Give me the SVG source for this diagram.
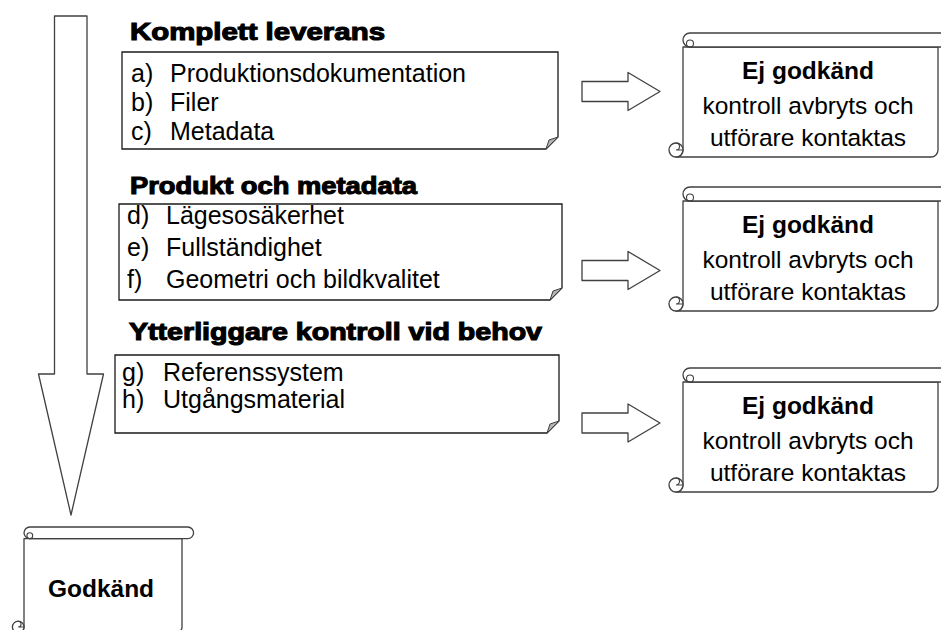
<svg xmlns="http://www.w3.org/2000/svg" width="941" height="630" viewBox="0 0 941 630">
<style>
.ln{fill:#fff;stroke:#404040;stroke-width:1.3;stroke-linejoin:round}
.nf{fill:none;stroke:#404040;stroke-width:1.1}
.box{fill:#fff;stroke:#1a1a1a;stroke-width:1.3}
.fold{fill:#b3b3b3;stroke:#404040;stroke-width:1}
.ttl{font-family:"Liberation Sans",Arial,sans-serif;font-size:24px;font-weight:bold;fill:#000;stroke:#000;stroke-width:1.1}
.it{font-family:"Liberation Sans",Arial,sans-serif;font-size:25px;fill:#000}
.st{font-family:"Liberation Sans",Arial,sans-serif;font-size:24.5px;fill:#000;text-anchor:middle}
.b{font-weight:bold}
</style>
<rect width="941" height="630" fill="#fff"/>

<g id="connectors">
  <polygon class="ln" points="54.5,16 87,16 87,374 103.5,374 71,515 38.5,374 54.5,374"/>
  <polygon class="ln" points="582,81.5 628,81.5 628,72.5 660,91.5 628,110.5 628,101.5 582,101.5"/>
  <polygon class="ln" points="582,260.5 628,260.5 628,251.5 660,270.5 628,289.5 628,280.5 582,280.5"/>
  <polygon class="ln" points="582,413 628,413 628,404 660,423 628,442 628,433 582,433"/>
</g>

<g id="komplett-leverans">
  <text class="ttl" x="130" y="40" textLength="255" lengthAdjust="spacingAndGlyphs">Komplett leverans</text>
  <path class="box" d="M122,52 H558 V137 L546,149 H122 Z"/>
  <path class="fold" d="M558,137 L546,149 L549,140 Z"/>
  <text class="it" x="131" y="82">a)</text><text class="it" x="170" y="82">Produktionsdokumentation</text>
  <text class="it" x="131" y="111">b)</text><text class="it" x="170" y="111">Filer</text>
  <text class="it" x="131" y="140">c)</text><text class="it" x="170" y="140">Metadata</text>
</g>

<g id="produkt-och-metadata">
  <text class="ttl" x="130" y="194" textLength="287" lengthAdjust="spacingAndGlyphs">Produkt och metadata</text>
  <path class="box" d="M119,204 H562 V288 L550,300 H119 Z"/>
  <path class="fold" d="M562,288 L550,300 L553,291 Z"/>
  <text class="it" x="127" y="224">d)</text><text class="it" x="166" y="224">Lägesosäkerhet</text>
  <text class="it" x="127" y="256">e)</text><text class="it" x="166" y="256">Fullständighet</text>
  <text class="it" x="127" y="288">f)</text><text class="it" x="166" y="288">Geometri och bildkvalitet</text>
</g>

<g id="ytterliggare-kontroll">
  <text class="ttl" x="129" y="340" textLength="413" lengthAdjust="spacingAndGlyphs">Ytterliggare kontroll vid behov</text>
  <path class="box" d="M115,355 H559 V421 L547,433 H115 Z"/>
  <path class="fold" d="M559,421 L547,433 L550,424 Z"/>
  <text class="it" x="122" y="381">g)</text><text class="it" x="163" y="381">Referenssystem</text>
  <text class="it" x="122" y="408">h)</text><text class="it" x="163" y="408">Utgångsmaterial</text>
</g>

<g id="ej-godkand-1">
  <path class="ln" d="M683,47 V150 A7 7 0 0 1 676,157 H931 A7 7 0 0 0 938,150 V47 Z"/>
  <path class="ln" d="M683,40 A7 7 0 0 1 690,33 H945 A7 7 0 0 1 945,47 H690 A7 7 0 0 1 683,40 Z"/>
  <path class="nf" d="M690,47 A3.5 3.5 0 0 1 690,40 A3.5 3.5 0 0 1 690,47"/>
  <path class="ln" d="M669,150 A7 7 0 1 0 683,150 A7 7 0 1 0 669,150 Z"/>
  <path class="nf" d="M676,143 A3.5 3.5 0 0 1 676,150 H683"/>
  <text class="st b" x="808" y="79">Ej godkänd</text>
  <text class="st" x="808" y="114">kontroll avbryts och</text>
  <text class="st" x="808" y="146">utförare kontaktas</text>
</g>

<g id="ej-godkand-2">
  <path class="ln" d="M683,201 V304 A7 7 0 0 1 676,311 H931 A7 7 0 0 0 938,304 V201 Z"/>
  <path class="ln" d="M683,194 A7 7 0 0 1 690,187 H945 A7 7 0 0 1 945,201 H690 A7 7 0 0 1 683,194 Z"/>
  <path class="nf" d="M690,201 A3.5 3.5 0 0 1 690,194 A3.5 3.5 0 0 1 690,201"/>
  <path class="ln" d="M669,304 A7 7 0 1 0 683,304 A7 7 0 1 0 669,304 Z"/>
  <path class="nf" d="M676,297 A3.5 3.5 0 0 1 676,304 H683"/>
  <text class="st b" x="808" y="233">Ej godkänd</text>
  <text class="st" x="808" y="268">kontroll avbryts och</text>
  <text class="st" x="808" y="300">utförare kontaktas</text>
</g>

<g id="ej-godkand-3">
  <path class="ln" d="M683,382 V485 A7 7 0 0 1 676,492 H931 A7 7 0 0 0 938,485 V382 Z"/>
  <path class="ln" d="M683,375 A7 7 0 0 1 690,368 H945 A7 7 0 0 1 945,382 H690 A7 7 0 0 1 683,375 Z"/>
  <path class="nf" d="M690,382 A3.5 3.5 0 0 1 690,375 A3.5 3.5 0 0 1 690,382"/>
  <path class="ln" d="M669,485 A7 7 0 1 0 683,485 A7 7 0 1 0 669,485 Z"/>
  <path class="nf" d="M676,478 A3.5 3.5 0 0 1 676,485 H683"/>
  <text class="st b" x="808" y="414">Ej godkänd</text>
  <text class="st" x="808" y="449">kontroll avbryts och</text>
  <text class="st" x="808" y="481">utförare kontaktas</text>
</g>

<g id="godkand">
  <path class="ln" d="M24,538.6 V627 A5.8 5.8 0 0 1 18.2,632.8 H176.2 A5.8 5.8 0 0 0 182,627 V538.6 Z"/>
  <path class="ln" d="M24,532.8 A5.8 5.8 0 0 1 29.8,527 H187.8 A5.8 5.8 0 0 1 187.8,538.6 H29.8 A5.8 5.8 0 0 1 24,532.8 Z"/>
  <path class="nf" d="M29.8,538.6 A2.9 2.9 0 0 1 29.8,532.8 A2.9 2.9 0 0 1 29.8,538.6"/>
  <path class="ln" d="M12.4,627 A5.8 5.8 0 1 0 24,627 A5.8 5.8 0 1 0 12.4,627 Z"/>
  <path class="nf" d="M18.2,621.2 A2.9 2.9 0 0 1 18.2,627 H24"/>
  <text class="st b" x="101" y="597">Godkänd</text>
</g>
</svg>
